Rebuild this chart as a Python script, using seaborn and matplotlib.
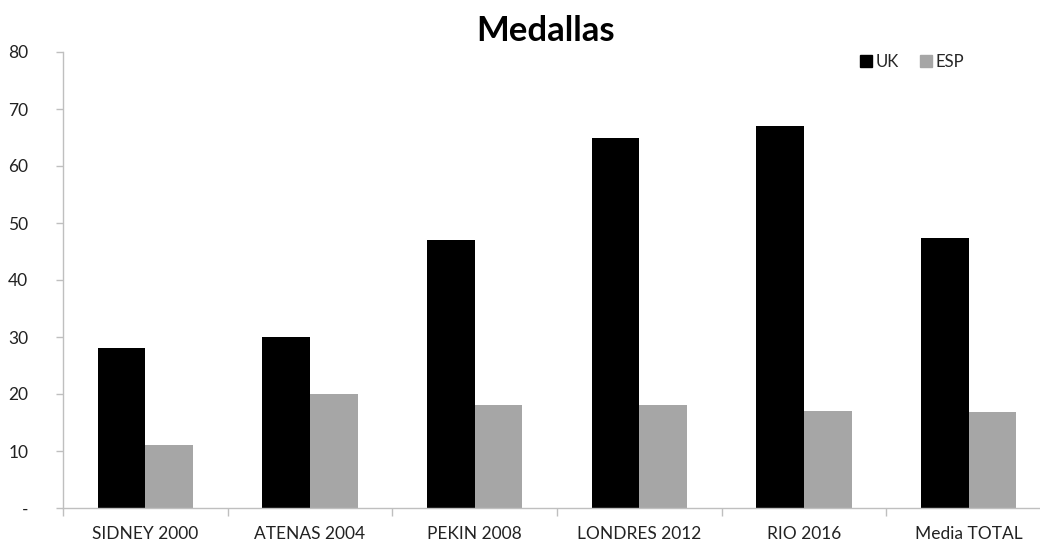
import matplotlib
matplotlib.use("Agg")
import matplotlib.pyplot as plt
import seaborn as sns
import pandas as pd
from matplotlib.lines import Line2D

categories = ["SIDNEY 2000", "ATENAS 2004", "PEKIN 2008", "LONDRES 2012", "RIO 2016", "Media TOTAL"]
uk = [28, 30, 47, 65, 67, 47.4]
esp = [11, 20, 18, 18, 17, 16.8]
series = ["UK", "ESP"]
yticks = [0, 10, 20, 30, 40, 50, 60, 70, 80]
ytick_labels = ["-", "10", "20", "30", "40", "50", "60", "70", "80"]
colors = ["#000000", "#A6A6A6"]

df = pd.DataFrame({
    "cat": categories * 2,
    "val": uk + esp,
    "serie": [series[0]] * len(categories) + [series[1]] * len(categories),
})

sns.set_style("white")
plt.rcParams["font.family"] = ["Lato", "DejaVu Sans"]

fig = plt.figure(figsize=(10.4, 5.45), dpi=100)
ax = fig.add_axes([63 / 1040, 37 / 545, (1051 - 63) / 1040, (508 - 52) / 545])

sns.barplot(data=df, x="cat", y="val", hue="serie", order=categories, hue_order=series,
            palette=colors, width=0.58, saturation=1, ax=ax, legend=False, linewidth=0)

ax.set_xlim(-0.5, len(categories) - 0.5)
ax.set_ylim(0, 80)
ax.set_yticks(yticks)
ax.set_yticklabels(ytick_labels)
ax.set_xlabel("")
ax.set_ylabel("")

for s in ["top", "right"]:
    ax.spines[s].set_visible(False)
for s in ["left", "bottom"]:
    ax.spines[s].set_color("#BFBFBF")
    ax.spines[s].set_linewidth(1)

ax.tick_params(axis="y", length=5, width=1, color="#BFBFBF", pad=20, labelsize=12.5, labelcolor="#222222", left=True)
ax.set_xticks(range(len(categories)))
ax.set_xticklabels(categories)
ax.tick_params(axis="x", which="major", length=0, pad=13, labelsize=12.5, labelcolor="#222222")
ax.set_xticks([i - 0.5 for i in range(len(categories) + 1)], minor=True)
ax.tick_params(axis="x", which="minor", length=6, width=1, color="#BFBFBF", bottom=True, direction="out")

fig.text(546 / 1040, 1 - 31 / 545, "Medallas", ha="center", va="center", fontsize=25, fontweight="bold", color="#000000")

handles = [Line2D([0], [0], marker="s", linestyle="", markersize=8, markerfacecolor=c, markeredgecolor=c) for c in colors]
fig.legend(handles, series, loc="center", bbox_to_anchor=(912 / 1040, 1 - 62 / 545), ncol=2, frameon=False,
           fontsize=12, handletextpad=0.2, columnspacing=1.2, handlelength=0.8)

fig.savefig("out.png", dpi=100)
